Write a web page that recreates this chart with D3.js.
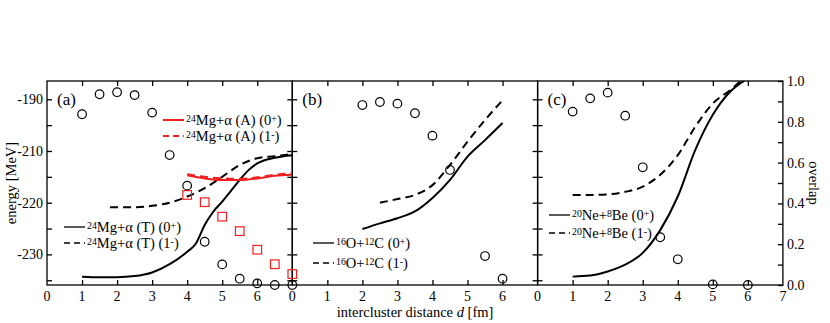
<!DOCTYPE html>
<html lang="en">
<head>
<meta charset="UTF-8" />
<title>Intercluster distance</title>
<style>
  body { margin: 0; background: #fff; }
  text { font-family: "Liberation Serif", "Times New Roman", serif; fill: #000; }
</style>
</head>
<body>
<script src="https://cdn.jsdelivr.net/npm/d3@7"></script>
<div id="app"></div>
<script>
// ---- data ----
// panel (a): 24Mg + alpha
const aOvD = [1, 1.5, 2, 2.5, 3, 3.5, 4, 4.5, 5, 5.5, 6, 6.5, 7];
const aOv = [0.837, 0.935, 0.945, 0.931, 0.845, 0.637, 0.487, 0.212, 0.101, 0.031, 0.008, 0.0, 0.0];
const aSqD = [4, 4.5, 5, 5.5, 6, 6.5, 7];
const aSqE = [-218.5, -219.9, -222.7, -225.5, -229.1, -231.9, -233.8];
const aT0D = [1, 1.5, 2, 2.5, 3, 3.5, 4, 4.25, 4.5, 4.75, 5, 5.25, 5.5, 5.75, 6, 6.5, 7];
const aT0E = [-234.3, -234.4, -234.4, -234.2, -233.5, -231.9, -229.5, -227.9, -224.3, -221.7, -219.8, -217.7, -215.6, -213.7, -212.4, -211.3, -210.8];
const aT1D = [1.8, 2, 2.5, 3, 3.5, 4, 4.5, 5, 5.5, 6, 6.5, 7];
const aT1E = [-220.9, -220.9, -220.9, -220.6, -220.0, -218.8, -217.2, -215.0, -212.7, -211.4, -211.0, -210.6];
const aA0D = [4, 4.5, 5, 5.5, 6, 6.5, 7];
const aA0E = [-214.7, -215.3, -215.6, -215.6, -215.3, -214.8, -214.6];
const aA1E = [-214.5, -215.0, -215.3, -215.4, -215.1, -214.6, -214.3];
// panel (b): 16O + 12C
const bOvD = [2, 2.5, 3, 3.5, 4, 4.5, 5.5, 6];
const bOv = [0.882, 0.897, 0.889, 0.842, 0.732, 0.564, 0.142, 0.031];
const b0D = [2, 2.5, 3, 3.5, 4, 4.5, 5, 5.5, 6];
const b0E = [-225.1, -224.0, -223.0, -221.7, -219.1, -215.6, -211.1, -207.9, -204.6];
const b1D = [2.5, 3, 3.5, 4, 4.5, 5, 5.5, 6];
const b1E = [-220.0, -219.3, -218.5, -216.6, -212.7, -208.2, -204.0, -200.2];
// panel (c): 20Ne + 8Be
const cOvD = [1, 1.5, 2, 2.5, 3, 3.5, 4, 5, 6];
const cOv = [0.850, 0.915, 0.943, 0.830, 0.577, 0.234, 0.126, 0.003, 0.0];
const c0D = [1, 1.5, 2, 2.5, 3, 3.5, 4, 4.5, 5, 5.5, 5.9];
const c0E = [-234.3, -234.1, -233.3, -232.0, -229.7, -225.3, -218.8, -209.8, -203.0, -198.5, -196.4];
const c1D = [1, 1.5, 2, 2.5, 3, 3.5, 4, 4.5, 5, 5.5, 5.8];
const c1E = [-218.5, -218.5, -218.4, -217.9, -216.9, -214.6, -210.8, -205.3, -200.8, -198.2, -196.4];

// ticks
const eTicks = [-200, -210, -220, -230];
const eTickLabels = ["-190", "-210", "-220", "-230"];
const eMinor = [-200, -205, -210, -215, -220, -225, -230, -235];
const ovTicks = [0, 0.2, 0.4, 0.6, 0.8, 1.0];
const ovMinor = [0, 0.1, 0.2, 0.3, 0.4, 0.5, 0.6, 0.7, 0.8, 0.9, 1.0];
const dTicks = [0, 1, 2, 3, 4, 5, 6, 7];

const zip = (xs, ys) => xs.map((x, i) => [x, ys[i]]);

// ---- canvas ----
const W = 830, H = 323;
const mLeft = 47, mTop = 81, mBottom = 285, pw = 245.3;
const svg = d3.select("#app").append("svg").attr("width", W).attr("height", H);

const yE = d3.scaleLinear().domain([-235.92, -196.46]).range([mBottom, mTop]);
const yO = d3.scaleLinear().domain([0, 1]).range([mBottom, mTop]);
const xs = [0, 1, 2].map(i => d3.scaleLinear().domain([0, 7]).range([mLeft + i * pw, mLeft + (i + 1) * pw]));

const RED = "#f02020";

function sup(t, parts, size) {
  parts.forEach(p => {
    const ts = t.append("tspan").text(p[0]);
    if (p[1]) ts.attr("font-size", size * 0.68).attr("baseline-shift", "35%");
  });
}

svg.append("defs").selectAll("clipPath").data(xs).enter()
  .append("clipPath").attr("id", (d, i) => "clip" + i)
  .append("rect").attr("x", d => d.range()[0]).attr("y", mTop)
  .attr("width", pw).attr("height", mBottom - mTop);

xs.forEach((x, i) => {
  const g = svg.append("g");
  // frame
  g.append("rect").attr("x", x.range()[0]).attr("y", mTop).attr("width", pw).attr("height", mBottom - mTop)
    .attr("fill", "none").attr("stroke", "#000").attr("stroke-width", 1.3);
  // bottom / top ticks (inward)
  const bt = dTicks.slice(1, 7);
  g.append("g").attr("transform", `translate(0,${mBottom})`)
    .call(d3.axisTop(x).tickValues(bt).tickSize(5).tickFormat(""))
    .call(s => s.select(".domain").remove());
  g.append("g").attr("transform", `translate(0,${mTop})`)
    .call(d3.axisBottom(x).tickValues(bt).tickSize(5).tickFormat(""))
    .call(s => s.select(".domain").remove());
  // bottom labels
  const labs = i === 2 ? dTicks : dTicks.slice(0, 7);
  g.selectAll("text.xl").data(labs).enter().append("text").attr("class", "xl")
    .attr("x", d => x(d)).attr("y", 301).attr("text-anchor", "middle").attr("font-size", 14).text(d => d);
  // left energy ticks
  g.append("g").attr("transform", `translate(${x.range()[0]},0)`)
    .call(d3.axisRight(yE).tickValues(eMinor).tickSize(5).tickFormat(""))
    .call(s => s.select(".domain").remove());
  // right ticks
  if (i < 2) {
    g.append("g").attr("transform", `translate(${x.range()[1]},0)`)
      .call(d3.axisLeft(yE).tickValues(eMinor).tickSize(5).tickFormat(""))
      .call(s => s.select(".domain").remove());
  } else {
    g.append("g").attr("transform", `translate(${x.range()[1]},0)`)
      .call(d3.axisLeft(yO).tickValues(ovMinor).tickSize(5).tickFormat(""))
      .call(s => s.select(".domain").remove());
  }
  g.selectAll(".tick line").attr("stroke", "#000").attr("stroke-width", 1.3);
});

// left labels
svg.selectAll("text.yl").data(eTicks).enter().append("text").attr("class", "yl")
  .attr("x", 43).attr("y", d => yE(d) + 5).attr("text-anchor", "end").attr("font-size", 14)
  .text((d, i) => eTickLabels[i]);
// right labels
svg.selectAll("text.ol").data(ovTicks).enter().append("text").attr("class", "ol")
  .attr("x", 787).attr("y", d => yO(d) + 5).attr("font-size", 14).text(d => d.toFixed(1));

// axis titles
svg.append("text").attr("transform", "translate(16,183) rotate(-90)").attr("text-anchor", "middle")
  .attr("font-size", 14.5).text("energy [MeV]");
svg.append("text").attr("transform", "translate(809,183) rotate(90)").attr("text-anchor", "middle")
  .attr("font-size", 14.5).text("overlap");
const xt = svg.append("text").attr("x", 415).attr("y", 317).attr("text-anchor", "middle").attr("font-size", 14.5);
xt.append("tspan").text("intercluster distance ");
xt.append("tspan").attr("font-style", "italic").text("d");
xt.append("tspan").text(" [fm]");

// panel labels
["(a)", "(b)", "(c)"].forEach((t, i) => {
  svg.append("text").attr("x", xs[i].range()[0] + 10).attr("y", 105).attr("font-size", 17).text(t);
});

// ---- marks ----
const line = (x, y) => d3.line().x(d => x(d[0])).y(d => y(d[1])).curve(d3.curveMonotoneX);
const DASH = "8,5";

function curve(i, data, color, dashed, width) {
  svg.append("path").datum(data).attr("clip-path", `url(#clip${i})`)
    .attr("d", line(xs[i], yE)).attr("fill", "none").attr("stroke", color)
    .attr("stroke-width", width).attr("stroke-dasharray", dashed ? DASH : null);
}
function circles(i, data) {
  svg.append("g").selectAll("circle").data(data).enter().append("circle")
    .attr("cx", d => xs[i](d[0])).attr("cy", d => yO(d[1])).attr("r", 4.3)
    .attr("fill", "none").attr("stroke", "#000").attr("stroke-width", 1.2);
}

// panel a
curve(0, zip(aT0D, aT0E), "#000", false, 2);
curve(0, zip(aT1D, aT1E), "#000", true, 2);
curve(0, zip(aA0D, aA0E), RED, false, 2);
curve(0, zip(aA0D, aA1E), RED, true, 2);
svg.append("g").selectAll("rect").data(zip(aSqD, aSqE)).enter().append("rect")
  .attr("x", d => xs[0](d[0]) - 4.3).attr("y", d => yE(d[1]) - 4.3).attr("width", 8.6).attr("height", 8.6)
  .attr("fill", "none").attr("stroke", RED).attr("stroke-width", 1.2);
circles(0, zip(aOvD, aOv));
// panel b
curve(1, zip(b0D, b0E), "#000", false, 2);
curve(1, zip(b1D, b1E), "#000", true, 2);
circles(1, zip(bOvD, bOv));
// panel c
curve(2, zip(c0D, c0E), "#000", false, 2);
curve(2, zip(c1D, c1E), "#000", true, 2);
circles(2, zip(cOvD, cOv));

// ---- legends ----
function legend(x0, y0, color, dashed, parts, width) {
  svg.append("line").attr("x1", x0).attr("x2", x0 + 21).attr("y1", y0).attr("y2", y0)
    .attr("stroke", color).attr("stroke-width", width).attr("stroke-dasharray", dashed ? "6,4" : null);
  const t = svg.append("text").attr("x", x0 + 23).attr("y", y0 + 5).attr("font-size", 14.5);
  sup(t, parts, 14.5);
}
legend(163, 120, RED, false, [["24", 1], ["Mg+α (A) (0"], ["+", 1], [")"]], 2);
legend(163, 136, RED, true, [["24", 1], ["Mg+α (A) (1"], ["-", 1], [")"]], 2);
legend(64, 227, "#000", false, [["24", 1], ["Mg+α (T) (0"], ["+", 1], [")"]], 1.3);
legend(64, 243, "#000", true, [["24", 1], ["Mg+α (T) (1"], ["-", 1], [")"]], 1.3);
legend(313, 243, "#000", false, [["16", 1], ["O+"], ["12", 1], ["C (0"], ["+", 1], [")"]], 1.3);
legend(313, 263, "#000", true, [["16", 1], ["O+"], ["12", 1], ["C (1"], ["-", 1], [")"]], 1.3);
legend(549, 215, "#000", false, [["20", 1], ["Ne+"], ["8", 1], ["Be (0"], ["+", 1], [")"]], 1.3);
legend(549, 233, "#000", true, [["20", 1], ["Ne+"], ["8", 1], ["Be (1"], ["-", 1], [")"]], 1.3);
</script>
</body>
</html>
